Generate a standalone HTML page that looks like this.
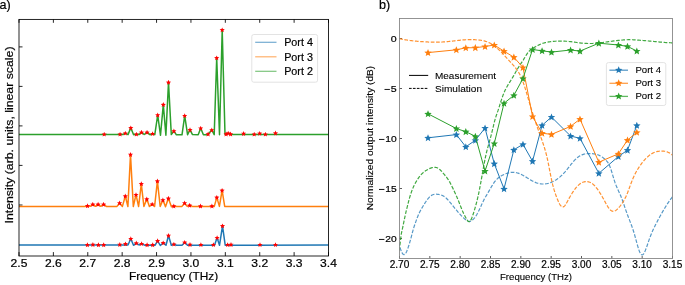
<!DOCTYPE html>
<html><head><meta charset="utf-8"><style>
html,body{margin:0;padding:0;background:#fff;width:685px;height:285px;overflow:hidden;font-family:"Liberation Sans", sans-serif;}
svg{display:block;will-change:transform}
</style></head><body>
<svg width="685" height="285" viewBox="0 0 685 285" font-family='"Liberation Sans", sans-serif'>
<defs>
<clipPath id="clipL"><rect x="19.0" y="19.4" width="309.5" height="236.6"/></clipPath>
<clipPath id="clipR"><rect x="399.5" y="14.5" width="273.0" height="244.0"/></clipPath>
</defs>
<rect width="685" height="285" fill="#fff"/>
<text x="-0.6" y="9.1" font-size="12.6" text-anchor="start" fill="#000" stroke="#000" stroke-width="0.2" >a)</text>
<line x1="19.00" y1="256.0" x2="19.00" y2="252.1" stroke="#000" stroke-width="0.85"/>
<line x1="19.00" y1="19.4" x2="19.00" y2="22.799999999999997" stroke="#000" stroke-width="0.85"/>
<text x="19.00" y="266.6" font-size="10.3" text-anchor="middle" fill="#000" stroke="#000" stroke-width="0.2" textLength="16.8" lengthAdjust="spacingAndGlyphs" >2.5</text>
<line x1="53.39" y1="256.0" x2="53.39" y2="252.1" stroke="#000" stroke-width="0.85"/>
<line x1="53.39" y1="19.4" x2="53.39" y2="22.799999999999997" stroke="#000" stroke-width="0.85"/>
<text x="53.39" y="266.6" font-size="10.3" text-anchor="middle" fill="#000" stroke="#000" stroke-width="0.2" textLength="16.8" lengthAdjust="spacingAndGlyphs" >2.6</text>
<line x1="87.78" y1="256.0" x2="87.78" y2="252.1" stroke="#000" stroke-width="0.85"/>
<line x1="87.78" y1="19.4" x2="87.78" y2="22.799999999999997" stroke="#000" stroke-width="0.85"/>
<text x="87.78" y="266.6" font-size="10.3" text-anchor="middle" fill="#000" stroke="#000" stroke-width="0.2" textLength="16.8" lengthAdjust="spacingAndGlyphs" >2.7</text>
<line x1="122.17" y1="256.0" x2="122.17" y2="252.1" stroke="#000" stroke-width="0.85"/>
<line x1="122.17" y1="19.4" x2="122.17" y2="22.799999999999997" stroke="#000" stroke-width="0.85"/>
<text x="122.17" y="266.6" font-size="10.3" text-anchor="middle" fill="#000" stroke="#000" stroke-width="0.2" textLength="16.8" lengthAdjust="spacingAndGlyphs" >2.8</text>
<line x1="156.56" y1="256.0" x2="156.56" y2="252.1" stroke="#000" stroke-width="0.85"/>
<line x1="156.56" y1="19.4" x2="156.56" y2="22.799999999999997" stroke="#000" stroke-width="0.85"/>
<text x="156.56" y="266.6" font-size="10.3" text-anchor="middle" fill="#000" stroke="#000" stroke-width="0.2" textLength="16.8" lengthAdjust="spacingAndGlyphs" >2.9</text>
<line x1="190.94" y1="256.0" x2="190.94" y2="252.1" stroke="#000" stroke-width="0.85"/>
<line x1="190.94" y1="19.4" x2="190.94" y2="22.799999999999997" stroke="#000" stroke-width="0.85"/>
<text x="190.94" y="266.6" font-size="10.3" text-anchor="middle" fill="#000" stroke="#000" stroke-width="0.2" textLength="16.8" lengthAdjust="spacingAndGlyphs" >3.0</text>
<line x1="225.33" y1="256.0" x2="225.33" y2="252.1" stroke="#000" stroke-width="0.85"/>
<line x1="225.33" y1="19.4" x2="225.33" y2="22.799999999999997" stroke="#000" stroke-width="0.85"/>
<text x="225.33" y="266.6" font-size="10.3" text-anchor="middle" fill="#000" stroke="#000" stroke-width="0.2" textLength="16.8" lengthAdjust="spacingAndGlyphs" >3.1</text>
<line x1="259.72" y1="256.0" x2="259.72" y2="252.1" stroke="#000" stroke-width="0.85"/>
<line x1="259.72" y1="19.4" x2="259.72" y2="22.799999999999997" stroke="#000" stroke-width="0.85"/>
<text x="259.72" y="266.6" font-size="10.3" text-anchor="middle" fill="#000" stroke="#000" stroke-width="0.2" textLength="16.8" lengthAdjust="spacingAndGlyphs" >3.2</text>
<line x1="294.11" y1="256.0" x2="294.11" y2="252.1" stroke="#000" stroke-width="0.85"/>
<line x1="294.11" y1="19.4" x2="294.11" y2="22.799999999999997" stroke="#000" stroke-width="0.85"/>
<text x="294.11" y="266.6" font-size="10.3" text-anchor="middle" fill="#000" stroke="#000" stroke-width="0.2" textLength="16.8" lengthAdjust="spacingAndGlyphs" >3.3</text>
<line x1="328.50" y1="256.0" x2="328.50" y2="252.1" stroke="#000" stroke-width="0.85"/>
<line x1="328.50" y1="19.4" x2="328.50" y2="22.799999999999997" stroke="#000" stroke-width="0.85"/>
<text x="328.50" y="266.6" font-size="10.3" text-anchor="middle" fill="#000" stroke="#000" stroke-width="0.2" textLength="16.8" lengthAdjust="spacingAndGlyphs" >3.4</text>
<line x1="19.0" y1="46.9" x2="22.5" y2="46.9" stroke="#000" stroke-width="0.85"/>
<line x1="19.0" y1="86.4" x2="22.5" y2="86.4" stroke="#000" stroke-width="0.85"/>
<line x1="19.0" y1="125.9" x2="22.5" y2="125.9" stroke="#000" stroke-width="0.85"/>
<line x1="19.0" y1="165.4" x2="22.5" y2="165.4" stroke="#000" stroke-width="0.85"/>
<line x1="19.0" y1="205.0" x2="22.5" y2="205.0" stroke="#000" stroke-width="0.85"/>
<g clip-path="url(#clipL)">
<polyline points="19.00,245.00 128.00,245.00 130.80,238.70 133.50,245.30 136.30,243.10 139.00,245.00 141.60,243.70 144.50,245.20 155.00,245.30 157.60,240.80 160.30,245.50 163.20,242.90 166.00,245.30 168.50,235.50 171.30,245.30 173.90,244.20 176.50,245.20 182.00,245.20 184.70,242.40 187.50,245.20 214.50,245.20 217.10,237.70 219.50,245.30 222.50,225.90 225.20,245.20 328.60,245.00" fill="none" stroke="#1f77b4" stroke-width="1.5" stroke-linejoin="round" stroke-linecap="butt" />
<polyline points="19.00,206.40 85.00,206.40 87.50,205.80 90.20,206.30 92.80,204.30 95.50,206.30 98.10,204.30 100.80,206.30 103.60,204.30 106.30,206.40 117.00,206.40 119.60,203.00 122.40,206.40 125.30,196.10 127.90,206.50 130.50,154.50 133.30,206.50 136.00,194.70 138.60,206.50 141.30,183.80 143.90,206.50 146.80,199.10 149.40,206.50 152.20,204.20 154.60,206.50 157.40,181.10 160.20,206.50 162.90,200.00 165.50,206.70 168.40,198.30 171.40,206.70 173.80,206.10 176.50,206.40 182.00,206.40 184.60,203.00 187.20,206.40 189.70,205.30 192.30,206.40 209.50,206.40 211.90,206.10 214.30,206.40 216.80,197.40 219.40,206.40 222.10,190.40 224.70,206.40 328.60,206.40" fill="none" stroke="#ff7f0e" stroke-width="1.5" stroke-linejoin="round" stroke-linecap="butt" />
<polyline points="19.00,134.60 117.40,134.60 120.05,134.30 122.70,134.60 125.30,133.20 128.00,134.60 130.80,127.90 133.60,134.80 136.40,134.20 139.00,134.60 141.50,132.30 144.20,134.50 147.05,132.30 150.00,134.70 152.60,133.70 154.80,134.60 157.70,115.00 160.50,135.30 163.30,104.60 165.90,135.30 168.50,82.30 171.30,134.60 173.90,131.00 176.40,134.80 182.00,134.80 184.70,115.70 187.60,134.80 190.00,129.80 192.50,134.60 198.20,134.80 200.70,128.20 203.40,134.80 206.60,134.70 208.10,134.20 211.80,130.00 214.20,134.70 216.70,57.90 219.50,134.70 222.20,29.90 225.00,134.50 226.10,134.20 228.20,133.20 230.60,134.20 233.00,134.50 328.60,134.50" fill="none" stroke="#2ca02c" stroke-width="1.5" stroke-linejoin="round" stroke-linecap="butt" />
<polygon points="87.40,242.30 88.11,244.02 89.97,244.17 88.56,245.38 88.99,247.18 87.40,246.22 85.81,247.18 86.24,245.38 84.83,244.17 86.69,244.02" fill="#ff0000"/>
<polygon points="92.90,242.00 93.61,243.72 95.47,243.87 94.06,245.08 94.49,246.88 92.90,245.91 91.31,246.88 91.74,245.08 90.33,243.87 92.19,243.72" fill="#ff0000"/>
<polygon points="98.40,242.30 99.11,244.02 100.97,244.17 99.56,245.38 99.99,247.18 98.40,246.22 96.81,247.18 97.24,245.38 95.83,244.17 97.69,244.02" fill="#ff0000"/>
<polygon points="103.70,242.30 104.41,244.02 106.27,244.17 104.86,245.38 105.29,247.18 103.70,246.22 102.11,247.18 102.54,245.38 101.13,244.17 102.99,244.02" fill="#ff0000"/>
<polygon points="119.80,242.00 120.51,243.72 122.37,243.87 120.96,245.08 121.39,246.88 119.80,245.91 118.21,246.88 118.64,245.08 117.23,243.87 119.09,243.72" fill="#ff0000"/>
<polygon points="125.50,241.40 126.21,243.12 128.07,243.27 126.66,244.48 127.09,246.28 125.50,245.31 123.91,246.28 124.34,244.48 122.93,243.27 124.79,243.12" fill="#ff0000"/>
<polygon points="130.80,236.20 131.51,237.92 133.37,238.07 131.96,239.28 132.39,241.08 130.80,240.11 129.21,241.08 129.64,239.28 128.23,238.07 130.09,237.92" fill="#ff0000"/>
<polygon points="136.30,240.60 137.01,242.32 138.87,242.47 137.46,243.68 137.89,245.48 136.30,244.51 134.71,245.48 135.14,243.68 133.73,242.47 135.59,242.32" fill="#ff0000"/>
<polygon points="141.60,241.20 142.31,242.92 144.17,243.07 142.76,244.28 143.19,246.08 141.60,245.11 140.01,246.08 140.44,244.28 139.03,243.07 140.89,242.92" fill="#ff0000"/>
<polygon points="147.10,242.30 147.81,244.02 149.67,244.17 148.26,245.38 148.69,247.18 147.10,246.22 145.51,247.18 145.94,245.38 144.53,244.17 146.39,244.02" fill="#ff0000"/>
<polygon points="152.70,242.30 153.41,244.02 155.27,244.17 153.86,245.38 154.29,247.18 152.70,246.22 151.11,247.18 151.54,245.38 150.13,244.17 151.99,244.02" fill="#ff0000"/>
<polygon points="157.60,238.30 158.31,240.02 160.17,240.17 158.76,241.38 159.19,243.18 157.60,242.22 156.01,243.18 156.44,241.38 155.03,240.17 156.89,240.02" fill="#ff0000"/>
<polygon points="163.20,240.40 163.91,242.12 165.77,242.27 164.36,243.48 164.79,245.28 163.20,244.31 161.61,245.28 162.04,243.48 160.63,242.27 162.49,242.12" fill="#ff0000"/>
<polygon points="168.50,233.00 169.21,234.72 171.07,234.87 169.66,236.08 170.09,237.88 168.50,236.91 166.91,237.88 167.34,236.08 165.93,234.87 167.79,234.72" fill="#ff0000"/>
<polygon points="173.90,241.70 174.61,243.42 176.47,243.57 175.06,244.78 175.49,246.58 173.90,245.61 172.31,246.58 172.74,244.78 171.33,243.57 173.19,243.42" fill="#ff0000"/>
<polygon points="184.70,239.90 185.41,241.62 187.27,241.77 185.86,242.98 186.29,244.78 184.70,243.81 183.11,244.78 183.54,242.98 182.13,241.77 183.99,241.62" fill="#ff0000"/>
<polygon points="190.00,242.00 190.71,243.72 192.57,243.87 191.16,245.08 191.59,246.88 190.00,245.91 188.41,246.88 188.84,245.08 187.43,243.87 189.29,243.72" fill="#ff0000"/>
<polygon points="200.90,242.20 201.61,243.92 203.47,244.07 202.06,245.28 202.49,247.08 200.90,246.11 199.31,247.08 199.74,245.28 198.33,244.07 200.19,243.92" fill="#ff0000"/>
<polygon points="213.40,242.20 214.11,243.92 215.97,244.07 214.56,245.28 214.99,247.08 213.40,246.11 211.81,247.08 212.24,245.28 210.83,244.07 212.69,243.92" fill="#ff0000"/>
<polygon points="217.10,235.20 217.81,236.92 219.67,237.07 218.26,238.28 218.69,240.08 217.10,239.11 215.51,240.08 215.94,238.28 214.53,237.07 216.39,236.92" fill="#ff0000"/>
<polygon points="222.50,223.40 223.21,225.12 225.07,225.27 223.66,226.48 224.09,228.28 222.50,227.31 220.91,228.28 221.34,226.48 219.93,225.27 221.79,225.12" fill="#ff0000"/>
<polygon points="227.60,242.20 228.31,243.92 230.17,244.07 228.76,245.28 229.19,247.08 227.60,246.11 226.01,247.08 226.44,245.28 225.03,244.07 226.89,243.92" fill="#ff0000"/>
<polygon points="231.00,242.00 231.71,243.72 233.57,243.87 232.16,245.08 232.59,246.88 231.00,245.91 229.41,246.88 229.84,245.08 228.43,243.87 230.29,243.72" fill="#ff0000"/>
<polygon points="260.00,242.20 260.71,243.92 262.57,244.07 261.16,245.28 261.59,247.08 260.00,246.11 258.41,247.08 258.84,245.28 257.43,244.07 259.29,243.92" fill="#ff0000"/>
<polygon points="275.50,242.20 276.21,243.92 278.07,244.07 276.66,245.28 277.09,247.08 275.50,246.11 273.91,247.08 274.34,245.28 272.93,244.07 274.79,243.92" fill="#ff0000"/>
<polygon points="87.50,203.30 88.21,205.02 90.07,205.17 88.66,206.38 89.09,208.18 87.50,207.22 85.91,208.18 86.34,206.38 84.93,205.17 86.79,205.02" fill="#ff0000"/>
<polygon points="92.80,201.80 93.51,203.52 95.37,203.67 93.96,204.88 94.39,206.68 92.80,205.72 91.21,206.68 91.64,204.88 90.23,203.67 92.09,203.52" fill="#ff0000"/>
<polygon points="98.10,201.80 98.81,203.52 100.67,203.67 99.26,204.88 99.69,206.68 98.10,205.72 96.51,206.68 96.94,204.88 95.53,203.67 97.39,203.52" fill="#ff0000"/>
<polygon points="103.60,201.80 104.31,203.52 106.17,203.67 104.76,204.88 105.19,206.68 103.60,205.72 102.01,206.68 102.44,204.88 101.03,203.67 102.89,203.52" fill="#ff0000"/>
<polygon points="119.60,200.50 120.31,202.22 122.17,202.37 120.76,203.58 121.19,205.38 119.60,204.41 118.01,205.38 118.44,203.58 117.03,202.37 118.89,202.22" fill="#ff0000"/>
<polygon points="125.30,193.60 126.01,195.32 127.87,195.47 126.46,196.68 126.89,198.48 125.30,197.51 123.71,198.48 124.14,196.68 122.73,195.47 124.59,195.32" fill="#ff0000"/>
<polygon points="130.50,152.00 131.21,153.72 133.07,153.87 131.66,155.08 132.09,156.88 130.50,155.91 128.91,156.88 129.34,155.08 127.93,153.87 129.79,153.72" fill="#ff0000"/>
<polygon points="136.00,192.20 136.71,193.92 138.57,194.07 137.16,195.28 137.59,197.08 136.00,196.11 134.41,197.08 134.84,195.28 133.43,194.07 135.29,193.92" fill="#ff0000"/>
<polygon points="141.30,181.30 142.01,183.02 143.87,183.17 142.46,184.38 142.89,186.18 141.30,185.22 139.71,186.18 140.14,184.38 138.73,183.17 140.59,183.02" fill="#ff0000"/>
<polygon points="146.80,196.60 147.51,198.32 149.37,198.47 147.96,199.68 148.39,201.48 146.80,200.51 145.21,201.48 145.64,199.68 144.23,198.47 146.09,198.32" fill="#ff0000"/>
<polygon points="152.20,201.70 152.91,203.42 154.77,203.57 153.36,204.78 153.79,206.58 152.20,205.61 150.61,206.58 151.04,204.78 149.63,203.57 151.49,203.42" fill="#ff0000"/>
<polygon points="157.40,178.60 158.11,180.32 159.97,180.47 158.56,181.68 158.99,183.48 157.40,182.51 155.81,183.48 156.24,181.68 154.83,180.47 156.69,180.32" fill="#ff0000"/>
<polygon points="162.90,197.50 163.61,199.22 165.47,199.37 164.06,200.58 164.49,202.38 162.90,201.41 161.31,202.38 161.74,200.58 160.33,199.37 162.19,199.22" fill="#ff0000"/>
<polygon points="168.40,195.80 169.11,197.52 170.97,197.67 169.56,198.88 169.99,200.68 168.40,199.72 166.81,200.68 167.24,198.88 165.83,197.67 167.69,197.52" fill="#ff0000"/>
<polygon points="173.80,203.60 174.51,205.32 176.37,205.47 174.96,206.68 175.39,208.48 173.80,207.51 172.21,208.48 172.64,206.68 171.23,205.47 173.09,205.32" fill="#ff0000"/>
<polygon points="184.60,200.50 185.31,202.22 187.17,202.37 185.76,203.58 186.19,205.38 184.60,204.41 183.01,205.38 183.44,203.58 182.03,202.37 183.89,202.22" fill="#ff0000"/>
<polygon points="189.70,202.80 190.41,204.52 192.27,204.67 190.86,205.88 191.29,207.68 189.70,206.72 188.11,207.68 188.54,205.88 187.13,204.67 188.99,204.52" fill="#ff0000"/>
<polygon points="200.50,203.60 201.21,205.32 203.07,205.47 201.66,206.68 202.09,208.48 200.50,207.51 198.91,208.48 199.34,206.68 197.93,205.47 199.79,205.32" fill="#ff0000"/>
<polygon points="211.90,203.60 212.61,205.32 214.47,205.47 213.06,206.68 213.49,208.48 211.90,207.51 210.31,208.48 210.74,206.68 209.33,205.47 211.19,205.32" fill="#ff0000"/>
<polygon points="216.80,194.90 217.51,196.62 219.37,196.77 217.96,197.98 218.39,199.78 216.80,198.81 215.21,199.78 215.64,197.98 214.23,196.77 216.09,196.62" fill="#ff0000"/>
<polygon points="222.10,187.90 222.81,189.62 224.67,189.77 223.26,190.98 223.69,192.78 222.10,191.81 220.51,192.78 220.94,190.98 219.53,189.77 221.39,189.62" fill="#ff0000"/>
<polygon points="104.20,131.70 104.91,133.42 106.77,133.57 105.36,134.78 105.79,136.58 104.20,135.61 102.61,136.58 103.04,134.78 101.63,133.57 103.49,133.42" fill="#ff0000"/>
<polygon points="120.05,131.70 120.76,133.42 122.62,133.57 121.21,134.78 121.64,136.58 120.05,135.61 118.46,136.58 118.89,134.78 117.48,133.57 119.34,133.42" fill="#ff0000"/>
<polygon points="125.30,130.70 126.01,132.42 127.87,132.57 126.46,133.78 126.89,135.58 125.30,134.61 123.71,135.58 124.14,133.78 122.73,132.57 124.59,132.42" fill="#ff0000"/>
<polygon points="130.80,125.40 131.51,127.12 133.37,127.27 131.96,128.48 132.39,130.28 130.80,129.31 129.21,130.28 129.64,128.48 128.23,127.27 130.09,127.12" fill="#ff0000"/>
<polygon points="136.40,131.70 137.11,133.42 138.97,133.57 137.56,134.78 137.99,136.58 136.40,135.61 134.81,136.58 135.24,134.78 133.83,133.57 135.69,133.42" fill="#ff0000"/>
<polygon points="141.50,129.80 142.21,131.52 144.07,131.67 142.66,132.88 143.09,134.68 141.50,133.72 139.91,134.68 140.34,132.88 138.93,131.67 140.79,131.52" fill="#ff0000"/>
<polygon points="147.05,129.80 147.76,131.52 149.62,131.67 148.21,132.88 148.64,134.68 147.05,133.72 145.46,134.68 145.89,132.88 144.48,131.67 146.34,131.52" fill="#ff0000"/>
<polygon points="152.60,131.20 153.31,132.92 155.17,133.07 153.76,134.28 154.19,136.08 152.60,135.11 151.01,136.08 151.44,134.28 150.03,133.07 151.89,132.92" fill="#ff0000"/>
<polygon points="157.70,112.50 158.41,114.22 160.27,114.37 158.86,115.58 159.29,117.38 157.70,116.42 156.11,117.38 156.54,115.58 155.13,114.37 156.99,114.22" fill="#ff0000"/>
<polygon points="163.30,102.10 164.01,103.82 165.87,103.97 164.46,105.18 164.89,106.98 163.30,106.02 161.71,106.98 162.14,105.18 160.73,103.97 162.59,103.82" fill="#ff0000"/>
<polygon points="168.50,79.80 169.21,81.52 171.07,81.67 169.66,82.88 170.09,84.68 168.50,83.72 166.91,84.68 167.34,82.88 165.93,81.67 167.79,81.52" fill="#ff0000"/>
<polygon points="173.90,128.50 174.61,130.22 176.47,130.37 175.06,131.58 175.49,133.38 173.90,132.41 172.31,133.38 172.74,131.58 171.33,130.37 173.19,130.22" fill="#ff0000"/>
<polygon points="184.70,113.20 185.41,114.92 187.27,115.07 185.86,116.28 186.29,118.08 184.70,117.12 183.11,118.08 183.54,116.28 182.13,115.07 183.99,114.92" fill="#ff0000"/>
<polygon points="190.00,127.30 190.71,129.02 192.57,129.17 191.16,130.38 191.59,132.18 190.00,131.22 188.41,132.18 188.84,130.38 187.43,129.17 189.29,129.02" fill="#ff0000"/>
<polygon points="200.70,125.70 201.41,127.42 203.27,127.57 201.86,128.78 202.29,130.58 200.70,129.61 199.11,130.58 199.54,128.78 198.13,127.57 199.99,127.42" fill="#ff0000"/>
<polygon points="208.10,131.50 208.81,133.22 210.67,133.37 209.26,134.58 209.69,136.38 208.10,135.41 206.51,136.38 206.94,134.58 205.53,133.37 207.39,133.22" fill="#ff0000"/>
<polygon points="211.80,127.50 212.51,129.22 214.37,129.37 212.96,130.58 213.39,132.38 211.80,131.41 210.21,132.38 210.64,130.58 209.23,129.37 211.09,129.22" fill="#ff0000"/>
<polygon points="216.70,55.40 217.41,57.12 219.27,57.27 217.86,58.48 218.29,60.28 216.70,59.32 215.11,60.28 215.54,58.48 214.13,57.27 215.99,57.12" fill="#ff0000"/>
<polygon points="222.20,27.40 222.91,29.12 224.77,29.27 223.36,30.48 223.79,32.28 222.20,31.31 220.61,32.28 221.04,30.48 219.63,29.27 221.49,29.12" fill="#ff0000"/>
<polygon points="226.10,131.50 226.81,133.22 228.67,133.37 227.26,134.58 227.69,136.38 226.10,135.41 224.51,136.38 224.94,134.58 223.53,133.37 225.39,133.22" fill="#ff0000"/>
<polygon points="228.20,130.70 228.91,132.42 230.77,132.57 229.36,133.78 229.79,135.58 228.20,134.61 226.61,135.58 227.04,133.78 225.63,132.57 227.49,132.42" fill="#ff0000"/>
<polygon points="230.60,131.50 231.31,133.22 233.17,133.37 231.76,134.58 232.19,136.38 230.60,135.41 229.01,136.38 229.44,134.58 228.03,133.37 229.89,133.22" fill="#ff0000"/>
<polygon points="243.60,131.00 244.31,132.72 246.17,132.87 244.76,134.08 245.19,135.88 243.60,134.91 242.01,135.88 242.44,134.08 241.03,132.87 242.89,132.72" fill="#ff0000"/>
<polygon points="254.20,131.70 254.91,133.42 256.77,133.57 255.36,134.78 255.79,136.58 254.20,135.61 252.61,136.58 253.04,134.78 251.63,133.57 253.49,133.42" fill="#ff0000"/>
<polygon points="259.70,130.90 260.41,132.62 262.27,132.77 260.86,133.98 261.29,135.78 259.70,134.81 258.11,135.78 258.54,133.98 257.13,132.77 258.99,132.62" fill="#ff0000"/>
<polygon points="265.40,131.70 266.11,133.42 267.97,133.57 266.56,134.78 266.99,136.58 265.40,135.61 263.81,136.58 264.24,134.78 262.83,133.57 264.69,133.42" fill="#ff0000"/>
<polygon points="275.50,130.60 276.21,132.32 278.07,132.47 276.66,133.68 277.09,135.48 275.50,134.51 273.91,135.48 274.34,133.68 272.93,132.47 274.79,132.32" fill="#ff0000"/>
</g>
<rect x="251.8" y="34.5" width="65.8" height="47.7" rx="2" ry="2" fill="#fff" fill-opacity="0.8" stroke="#e3e3e3" stroke-width="1"/>
<line x1="255.2" y1="42.3" x2="276.5" y2="42.3" stroke="#1f77b4" stroke-width="1.2" stroke-opacity="0.62"/>
<text x="284.2" y="46.1" font-size="11.2" text-anchor="start" fill="#000" stroke="#000" stroke-width="0.2" textLength="28.7" lengthAdjust="spacingAndGlyphs" >Port 4</text>
<line x1="255.2" y1="56.8" x2="276.5" y2="56.8" stroke="#ff7f0e" stroke-width="1.2" stroke-opacity="0.62"/>
<text x="284.2" y="60.6" font-size="11.2" text-anchor="start" fill="#000" stroke="#000" stroke-width="0.2" textLength="28.7" lengthAdjust="spacingAndGlyphs" >Port 3</text>
<line x1="255.2" y1="71.3" x2="276.5" y2="71.3" stroke="#2ca02c" stroke-width="1.2" stroke-opacity="0.62"/>
<text x="284.2" y="75.1" font-size="11.2" text-anchor="start" fill="#000" stroke="#000" stroke-width="0.2" textLength="28.7" lengthAdjust="spacingAndGlyphs" >Port 2</text>
<rect x="19.0" y="19.4" width="309.5" height="236.6" fill="none" stroke="#000" stroke-width="0.85"/>
<text x="173.6" y="280.4" font-size="11.2" text-anchor="middle" fill="#000" stroke="#000" stroke-width="0.2" textLength="89" lengthAdjust="spacingAndGlyphs" >Frequency (THz)</text>
<text x="0" y="0" font-size="11.2" text-anchor="middle" fill="#000" stroke="#000" stroke-width="0.2" textLength="177" lengthAdjust="spacingAndGlyphs" transform="translate(13.2,135) rotate(-90)">Intensity (arb. units, linear scale)</text>
<text x="379.0" y="9.1" font-size="12.6" text-anchor="start" fill="#000" stroke="#000" stroke-width="0.2" >b)</text>
<line x1="399.50" y1="258.5" x2="399.50" y2="256.0" stroke="#333" stroke-width="0.8"/>
<text x="399.50" y="268.4" font-size="10.2" text-anchor="middle" fill="#000" stroke="#000" stroke-width="0.2" textLength="19.6" lengthAdjust="spacingAndGlyphs" >2.70</text>
<line x1="429.83" y1="258.5" x2="429.83" y2="256.0" stroke="#333" stroke-width="0.8"/>
<text x="429.83" y="268.4" font-size="10.2" text-anchor="middle" fill="#000" stroke="#000" stroke-width="0.2" textLength="19.6" lengthAdjust="spacingAndGlyphs" >2.75</text>
<line x1="460.17" y1="258.5" x2="460.17" y2="256.0" stroke="#333" stroke-width="0.8"/>
<text x="460.17" y="268.4" font-size="10.2" text-anchor="middle" fill="#000" stroke="#000" stroke-width="0.2" textLength="19.6" lengthAdjust="spacingAndGlyphs" >2.80</text>
<line x1="490.50" y1="258.5" x2="490.50" y2="256.0" stroke="#333" stroke-width="0.8"/>
<text x="490.50" y="268.4" font-size="10.2" text-anchor="middle" fill="#000" stroke="#000" stroke-width="0.2" textLength="19.6" lengthAdjust="spacingAndGlyphs" >2.85</text>
<line x1="520.83" y1="258.5" x2="520.83" y2="256.0" stroke="#333" stroke-width="0.8"/>
<text x="520.83" y="268.4" font-size="10.2" text-anchor="middle" fill="#000" stroke="#000" stroke-width="0.2" textLength="19.6" lengthAdjust="spacingAndGlyphs" >2.90</text>
<line x1="551.17" y1="258.5" x2="551.17" y2="256.0" stroke="#333" stroke-width="0.8"/>
<text x="551.17" y="268.4" font-size="10.2" text-anchor="middle" fill="#000" stroke="#000" stroke-width="0.2" textLength="19.6" lengthAdjust="spacingAndGlyphs" >2.95</text>
<line x1="581.50" y1="258.5" x2="581.50" y2="256.0" stroke="#333" stroke-width="0.8"/>
<text x="581.50" y="268.4" font-size="10.2" text-anchor="middle" fill="#000" stroke="#000" stroke-width="0.2" textLength="19.6" lengthAdjust="spacingAndGlyphs" >3.00</text>
<line x1="611.83" y1="258.5" x2="611.83" y2="256.0" stroke="#333" stroke-width="0.8"/>
<text x="611.83" y="268.4" font-size="10.2" text-anchor="middle" fill="#000" stroke="#000" stroke-width="0.2" textLength="19.6" lengthAdjust="spacingAndGlyphs" >3.05</text>
<line x1="642.17" y1="258.5" x2="642.17" y2="256.0" stroke="#333" stroke-width="0.8"/>
<text x="642.17" y="268.4" font-size="10.2" text-anchor="middle" fill="#000" stroke="#000" stroke-width="0.2" textLength="19.6" lengthAdjust="spacingAndGlyphs" >3.10</text>
<line x1="672.50" y1="258.5" x2="672.50" y2="256.0" stroke="#333" stroke-width="0.8"/>
<text x="672.50" y="268.4" font-size="10.2" text-anchor="middle" fill="#000" stroke="#000" stroke-width="0.2" textLength="19.6" lengthAdjust="spacingAndGlyphs" >3.15</text>
<line x1="399.5" y1="38.50" x2="402.0" y2="38.50" stroke="#333" stroke-width="0.8"/>
<text x="396.7" y="42.00" font-size="9.9" text-anchor="end" fill="#000" stroke="#000" stroke-width="0.2" textLength="5.9" lengthAdjust="spacingAndGlyphs" >0</text>
<line x1="399.5" y1="88.50" x2="402.0" y2="88.50" stroke="#333" stroke-width="0.8"/>
<text x="396.7" y="92.00" font-size="9.9" text-anchor="end" fill="#000" stroke="#000" stroke-width="0.2" textLength="5.9" lengthAdjust="spacingAndGlyphs" >5</text>
<rect x="384.50" y="88.95" width="5.4" height="0.9" fill="#000"/>
<line x1="399.5" y1="138.50" x2="402.0" y2="138.50" stroke="#333" stroke-width="0.8"/>
<text x="396.7" y="142.00" font-size="9.9" text-anchor="end" fill="#000" stroke="#000" stroke-width="0.2" textLength="11.4" lengthAdjust="spacingAndGlyphs" >10</text>
<rect x="379.00" y="138.95" width="5.4" height="0.9" fill="#000"/>
<line x1="399.5" y1="188.50" x2="402.0" y2="188.50" stroke="#333" stroke-width="0.8"/>
<text x="396.7" y="192.00" font-size="9.9" text-anchor="end" fill="#000" stroke="#000" stroke-width="0.2" textLength="11.4" lengthAdjust="spacingAndGlyphs" >15</text>
<rect x="379.00" y="188.95" width="5.4" height="0.9" fill="#000"/>
<line x1="399.5" y1="238.50" x2="402.0" y2="238.50" stroke="#333" stroke-width="0.8"/>
<text x="396.7" y="242.00" font-size="9.9" text-anchor="end" fill="#000" stroke="#000" stroke-width="0.2" textLength="11.4" lengthAdjust="spacingAndGlyphs" >20</text>
<rect x="379.00" y="238.95" width="5.4" height="0.9" fill="#000"/>
<g clip-path="url(#clipR)">
<polyline points="398.50,242.50 399.19,244.26 399.87,246.64 400.56,249.12 401.25,251.18 401.94,252.68 402.62,253.69 403.31,254.31 404.00,254.58 404.68,254.44 405.37,253.82 406.06,252.73 406.75,251.28 407.43,249.55 408.12,247.61 408.81,245.52 409.50,243.29 410.18,240.95 410.87,238.48 411.56,235.87 412.24,233.18 412.93,230.57 413.62,228.16 414.31,226.02 414.99,224.03 415.68,222.09 416.37,220.15 417.05,218.25 417.74,216.43 418.43,214.76 419.12,213.25 419.80,211.86 420.49,210.56 421.18,209.32 421.87,208.12 422.55,206.95 423.24,205.80 423.93,204.69 424.61,203.60 425.30,202.53 425.99,201.49 426.68,200.49 427.36,199.53 428.05,198.63 428.74,197.80 429.42,197.05 430.11,196.40 430.80,195.85 431.49,195.39 432.17,195.02 432.86,194.73 433.55,194.51 434.24,194.35 434.92,194.26 435.61,194.21 436.30,194.20 436.98,194.23 437.67,194.30 438.36,194.39 439.05,194.51 439.73,194.65 440.42,194.82 441.11,195.03 441.79,195.27 442.48,195.56 443.17,195.91 443.86,196.31 444.54,196.77 445.23,197.30 445.92,197.89 446.61,198.54 447.29,199.22 447.98,199.95 448.67,200.72 449.35,201.51 450.04,202.32 450.73,203.16 451.42,204.00 452.10,204.85 452.79,205.71 453.48,206.56 454.16,207.42 454.85,208.26 455.54,209.10 456.23,209.92 456.91,210.73 457.60,211.53 458.29,212.31 458.98,213.09 459.66,213.85 460.35,214.59 461.04,215.33 461.72,216.05 462.41,216.75 463.10,217.43 463.79,218.08 464.47,218.70 465.16,219.27 465.85,219.81 466.53,220.29 467.22,220.71 467.91,221.05 468.60,221.29 469.28,221.40 469.97,221.36 470.66,221.17 471.35,220.83 472.03,220.37 472.72,219.80 473.41,219.13 474.09,218.36 474.78,217.52 475.47,216.59 476.16,215.57 476.84,214.47 477.53,213.27 478.22,211.98 478.90,210.60 479.59,209.15 480.28,207.66 480.97,206.14 481.65,204.61 482.34,203.10 483.03,201.63 483.72,200.21 484.40,198.88 485.09,197.64 485.78,196.48 486.46,195.35 487.15,194.21 487.84,193.05 488.53,191.86 489.21,190.65 489.90,189.44 490.59,188.23 491.27,187.04 491.96,185.88 492.65,184.75 493.34,183.68 494.02,182.66 494.71,181.72 495.40,180.85 496.08,180.05 496.77,179.32 497.46,178.65 498.15,178.04 498.83,177.49 499.52,176.98 500.21,176.51 500.90,176.08 501.58,175.69 502.27,175.33 502.96,174.99 503.64,174.67 504.33,174.37 505.02,174.08 505.71,173.81 506.39,173.55 507.08,173.32 507.77,173.10 508.45,172.91 509.14,172.74 509.83,172.60 510.52,172.48 511.20,172.39 511.89,172.33 512.58,172.30 513.27,172.30 513.95,172.33 514.64,172.40 515.33,172.49 516.01,172.62 516.70,172.78 517.39,172.96 518.08,173.17 518.76,173.40 519.45,173.66 520.14,173.95 520.82,174.25 521.51,174.58 522.20,174.92 522.89,175.28 523.57,175.66 524.26,176.06 524.95,176.47 525.64,176.88 526.32,177.31 527.01,177.74 527.70,178.17 528.38,178.60 529.07,179.03 529.76,179.45 530.45,179.87 531.13,180.27 531.82,180.66 532.51,181.04 533.19,181.40 533.88,181.74 534.57,182.05 535.26,182.34 535.94,182.61 536.63,182.86 537.32,183.08 538.01,183.28 538.69,183.46 539.38,183.61 540.07,183.74 540.75,183.85 541.44,183.93 542.13,183.98 542.82,184.01 543.50,184.02 544.19,184.00 544.88,183.95 545.56,183.88 546.25,183.78 546.94,183.66 547.63,183.51 548.31,183.34 549.00,183.15 549.69,182.93 550.38,182.69 551.06,182.42 551.75,182.13 552.44,181.82 553.12,181.49 553.81,181.13 554.50,180.76 555.19,180.35 555.87,179.93 556.56,179.48 557.25,179.01 557.93,178.51 558.62,177.99 559.31,177.44 560.00,176.87 560.68,176.27 561.37,175.65 562.06,175.00 562.75,174.32 563.43,173.61 564.12,172.88 564.81,172.12 565.49,171.33 566.18,170.51 566.87,169.68 567.56,168.83 568.24,167.96 568.93,167.09 569.62,166.22 570.30,165.35 570.99,164.49 571.68,163.63 572.37,162.80 573.05,161.98 573.74,161.19 574.43,160.43 575.12,159.70 575.80,159.01 576.49,158.36 577.18,157.77 577.86,157.22 578.55,156.72 579.24,156.26 579.93,155.85 580.61,155.48 581.30,155.15 581.99,154.86 582.67,154.61 583.36,154.38 584.05,154.19 584.74,154.03 585.42,153.90 586.11,153.80 586.80,153.71 587.48,153.65 588.17,153.61 588.86,153.59 589.55,153.59 590.23,153.59 590.92,153.61 591.61,153.65 592.30,153.69 592.98,153.76 593.67,153.84 594.36,153.94 595.04,154.06 595.73,154.21 596.42,154.38 597.11,154.57 597.79,154.80 598.48,155.06 599.17,155.35 599.85,155.68 600.54,156.04 601.23,156.44 601.92,156.88 602.60,157.36 603.29,157.87 603.98,158.43 604.67,159.03 605.35,159.67 606.04,160.34 606.73,161.06 607.41,161.88 608.10,162.85 608.79,164.02 609.48,165.44 610.16,167.16 610.85,169.12 611.54,171.26 612.22,173.52 612.91,175.82 613.60,178.12 614.29,180.33 614.97,182.41 615.66,184.30 616.35,186.05 617.04,187.68 617.72,189.23 618.41,190.74 619.10,192.23 619.78,193.75 620.47,195.33 621.16,197.00 621.85,198.77 622.53,200.64 623.22,202.58 623.91,204.57 624.59,206.59 625.28,208.60 625.97,210.60 626.66,212.57 627.34,214.47 628.03,216.30 628.72,218.09 629.41,219.85 630.09,221.62 630.78,223.41 631.47,225.25 632.15,227.15 632.84,229.15 633.53,231.26 634.22,233.51 634.90,235.91 635.59,238.42 636.28,240.96 636.96,243.48 637.65,245.91 638.34,248.18 639.03,250.23 639.71,251.99 640.40,253.39 641.09,254.38 641.78,254.88 642.46,254.87 643.15,254.40 643.84,253.53 644.52,252.32 645.21,250.82 645.90,249.09 646.59,247.20 647.27,245.21 647.96,243.16 648.65,241.12 649.33,239.15 650.02,237.28 650.71,235.49 651.40,233.78 652.08,232.14 652.77,230.57 653.46,229.07 654.15,227.61 654.83,226.20 655.52,224.82 656.21,223.48 656.89,222.16 657.58,220.86 658.27,219.57 658.96,218.29 659.64,217.02 660.33,215.77 661.02,214.54 661.70,213.32 662.39,212.11 663.08,210.92 663.77,209.75 664.45,208.60 665.14,207.47 665.83,206.36 666.52,205.26 667.20,204.19 667.89,203.15 668.58,202.12 669.26,201.12 669.95,200.14 670.64,199.19 671.33,198.27 672.01,197.37 672.70,196.50" fill="none" stroke="#1f77b4" stroke-width="1.2" stroke-linejoin="round" stroke-linecap="butt" stroke-dasharray="3.7 1.6" stroke-opacity="0.75"/>
<polyline points="399.20,38.60 399.89,38.75 400.57,38.90 401.26,39.04 401.94,39.18 402.63,39.32 403.31,39.45 404.00,39.57 404.68,39.69 405.37,39.81 406.05,39.92 406.74,40.03 407.43,40.14 408.11,40.24 408.80,40.34 409.48,40.43 410.17,40.52 410.85,40.61 411.54,40.69 412.22,40.77 412.91,40.85 413.59,40.93 414.28,41.00 414.97,41.07 415.65,41.14 416.34,41.20 417.02,41.26 417.71,41.32 418.39,41.38 419.08,41.43 419.76,41.49 420.45,41.54 421.13,41.59 421.82,41.64 422.51,41.68 423.19,41.73 423.88,41.77 424.56,41.82 425.25,41.86 425.93,41.90 426.62,41.94 427.30,41.97 427.99,42.01 428.67,42.04 429.36,42.07 430.05,42.10 430.73,42.12 431.42,42.14 432.10,42.16 432.79,42.18 433.47,42.19 434.16,42.20 434.84,42.21 435.53,42.21 436.22,42.21 436.90,42.20 437.59,42.19 438.27,42.17 438.96,42.16 439.64,42.13 440.33,42.11 441.01,42.07 441.70,42.04 442.38,42.00 443.07,41.96 443.76,41.92 444.44,41.87 445.13,41.82 445.81,41.76 446.50,41.71 447.18,41.65 447.87,41.58 448.55,41.52 449.24,41.45 449.92,41.38 450.61,41.31 451.30,41.23 451.98,41.16 452.67,41.08 453.35,41.00 454.04,40.92 454.72,40.84 455.41,40.76 456.09,40.67 456.78,40.59 457.46,40.51 458.15,40.43 458.84,40.35 459.52,40.28 460.21,40.20 460.89,40.13 461.58,40.07 462.26,40.00 462.95,39.94 463.63,39.88 464.32,39.83 465.00,39.78 465.69,39.74 466.38,39.70 467.06,39.67 467.75,39.64 468.43,39.62 469.12,39.61 469.80,39.60 470.49,39.60 471.17,39.60 471.86,39.61 472.54,39.63 473.23,39.65 473.92,39.68 474.60,39.71 475.29,39.75 475.97,39.79 476.66,39.84 477.34,39.90 478.03,39.96 478.71,40.02 479.40,40.10 480.08,40.18 480.77,40.28 481.46,40.39 482.14,40.50 482.83,40.64 483.51,40.78 484.20,40.95 484.88,41.13 485.57,41.33 486.25,41.55 486.94,41.79 487.62,42.05 488.31,42.33 489.00,42.64 489.68,42.97 490.37,43.33 491.05,43.71 491.74,44.11 492.42,44.54 493.11,44.99 493.79,45.47 494.48,45.97 495.16,46.49 495.85,47.04 496.54,47.62 497.22,48.21 497.91,48.84 498.59,49.48 499.28,50.14 499.96,50.82 500.65,51.51 501.33,52.21 502.02,52.93 502.71,53.65 503.39,54.38 504.08,55.12 504.76,55.86 505.45,56.60 506.13,57.34 506.82,58.08 507.50,58.83 508.19,59.57 508.87,60.32 509.56,61.07 510.25,61.81 510.93,62.57 511.62,63.32 512.30,64.07 512.99,64.84 513.67,65.62 514.36,66.42 515.04,67.26 515.73,68.13 516.41,69.05 517.10,70.02 517.79,71.05 518.47,72.14 519.16,73.31 519.84,74.57 520.53,75.93 521.21,77.41 521.90,79.00 522.58,80.73 523.27,82.60 523.95,84.59 524.64,86.68 525.33,88.86 526.01,91.10 526.70,93.41 527.38,95.74 528.07,98.10 528.75,100.47 529.44,102.82 530.12,105.14 530.81,107.42 531.49,109.66 532.18,111.85 532.87,114.01 533.55,116.13 534.24,118.21 534.92,120.27 535.61,122.29 536.29,124.29 536.98,126.27 537.66,128.23 538.35,130.17 539.03,132.10 539.72,134.02 540.41,135.94 541.09,137.86 541.78,139.80 542.46,141.75 543.15,143.74 543.83,145.80 544.52,147.96 545.20,150.27 545.89,152.74 546.57,155.43 547.26,158.37 547.95,161.57 548.63,164.99 549.32,168.53 550.00,172.09 550.69,175.59 551.37,178.94 552.06,182.05 552.74,184.89 553.43,187.50 554.11,189.89 554.80,192.11 555.49,194.16 556.17,196.08 556.86,197.89 557.54,199.61 558.23,201.22 558.91,202.69 559.60,204.00 560.28,205.11 560.97,205.99 561.65,206.61 562.34,206.95 563.03,206.97 563.71,206.67 564.40,206.10 565.08,205.30 565.77,204.31 566.45,203.18 567.14,201.95 567.82,200.68 568.51,199.40 569.19,198.14 569.88,196.93 570.57,195.74 571.25,194.60 571.94,193.49 572.62,192.42 573.31,191.39 573.99,190.41 574.68,189.47 575.36,188.58 576.05,187.73 576.74,186.93 577.42,186.19 578.11,185.49 578.79,184.86 579.48,184.28 580.16,183.75 580.85,183.29 581.53,182.89 582.22,182.54 582.90,182.25 583.59,182.01 584.28,181.83 584.96,181.70 585.65,181.62 586.33,181.59 587.02,181.62 587.70,181.69 588.39,181.82 589.07,182.00 589.76,182.24 590.44,182.54 591.13,182.90 591.82,183.31 592.50,183.80 593.19,184.35 593.87,184.96 594.56,185.64 595.24,186.39 595.93,187.20 596.61,188.06 597.30,188.97 597.98,189.93 598.67,190.94 599.36,191.99 600.04,193.07 600.73,194.18 601.41,195.33 602.10,196.50 602.78,197.70 603.47,198.92 604.15,200.15 604.84,201.40 605.52,202.67 606.21,203.92 606.90,205.15 607.58,206.31 608.27,207.40 608.95,208.38 609.64,209.22 610.32,209.93 611.01,210.49 611.69,210.91 612.38,211.18 613.06,211.31 613.75,211.28 614.44,211.11 615.12,210.81 615.81,210.40 616.49,209.89 617.18,209.30 617.86,208.64 618.55,207.93 619.23,207.17 619.92,206.37 620.60,205.50 621.29,204.58 621.98,203.60 622.66,202.56 623.35,201.45 624.03,200.27 624.72,199.00 625.40,197.64 626.09,196.19 626.77,194.64 627.46,192.97 628.14,191.21 628.83,189.38 629.52,187.52 630.20,185.64 630.89,183.77 631.57,181.95 632.26,180.21 632.94,178.55 633.63,176.99 634.31,175.52 635.00,174.13 635.68,172.80 636.37,171.55 637.06,170.35 637.74,169.20 638.43,168.10 639.11,167.04 639.80,166.02 640.48,165.04 641.17,164.10 641.85,163.19 642.54,162.32 643.23,161.48 643.91,160.68 644.60,159.90 645.28,159.16 645.97,158.44 646.65,157.76 647.34,157.10 648.02,156.48 648.71,155.89 649.39,155.34 650.08,154.82 650.77,154.34 651.45,153.89 652.14,153.49 652.82,153.12 653.51,152.78 654.19,152.49 654.88,152.22 655.56,151.99 656.25,151.78 656.93,151.61 657.62,151.46 658.31,151.33 658.99,151.24 659.68,151.16 660.36,151.10 661.05,151.07 661.73,151.05 662.42,151.06 663.10,151.09 663.79,151.15 664.47,151.24 665.16,151.37 665.85,151.52 666.53,151.71 667.22,151.93 667.90,152.20 668.59,152.50 669.27,152.85 669.96,153.24 670.64,153.68 671.33,154.17 672.01,154.71 672.70,155.30" fill="none" stroke="#ff7f0e" stroke-width="1.2" stroke-linejoin="round" stroke-linecap="butt" stroke-dasharray="3.7 1.6" stroke-opacity="0.85"/>
<polyline points="399.20,250.50 399.89,245.22 400.57,239.75 401.26,234.11 401.94,230.73 402.63,227.80 403.31,224.44 404.00,221.08 404.68,217.84 405.37,214.72 406.05,211.74 406.74,208.89 407.43,206.07 408.11,203.28 408.80,200.59 409.48,198.09 410.17,195.78 410.85,193.64 411.54,191.66 412.22,189.82 412.91,188.12 413.59,186.55 414.28,185.10 414.97,183.76 415.65,182.51 416.34,181.34 417.02,180.24 417.71,179.17 418.39,178.15 419.08,177.18 419.76,176.26 420.45,175.40 421.13,174.60 421.82,173.87 422.51,173.21 423.19,172.60 423.88,172.05 424.56,171.54 425.25,171.07 425.93,170.61 426.62,170.18 427.30,169.76 427.99,169.37 428.67,169.00 429.36,168.66 430.05,168.36 430.73,168.08 431.42,167.84 432.10,167.65 432.79,167.49 433.47,167.38 434.16,167.31 434.84,167.30 435.53,167.36 436.22,167.49 436.90,167.69 437.59,167.98 438.27,168.36 438.96,168.84 439.64,169.39 440.33,170.02 441.01,170.71 441.70,171.45 442.38,172.22 443.07,173.02 443.76,173.84 444.44,174.67 445.13,175.50 445.81,176.34 446.50,177.20 447.18,178.11 447.87,179.06 448.55,180.08 449.24,181.18 449.92,182.38 450.61,183.66 451.30,185.01 451.98,186.42 452.67,187.87 453.35,189.34 454.04,190.81 454.72,192.28 455.41,193.76 456.09,195.27 456.78,196.81 457.46,198.41 458.15,200.07 458.84,201.79 459.52,203.56 460.21,205.33 460.89,207.09 461.58,208.81 462.26,210.45 462.95,211.99 463.63,213.45 464.32,214.84 465.00,216.16 465.69,217.43 466.38,218.66 467.06,219.83 467.75,220.85 468.43,221.55 469.12,221.81 469.80,221.50 470.49,220.66 471.17,219.39 471.86,217.79 472.54,215.94 473.23,213.94 473.92,211.81 474.60,209.57 475.29,207.20 475.97,204.74 476.66,202.15 477.34,199.41 478.03,196.47 478.71,193.30 479.40,189.93 480.08,186.38 480.77,182.69 481.46,178.89 482.14,175.03 482.83,171.14 483.51,167.28 484.20,163.52 484.88,159.91 485.57,156.53 486.25,153.44 486.94,150.63 487.62,148.03 488.31,145.56 489.00,143.15 489.68,140.71 490.37,138.19 491.05,135.58 491.74,132.89 492.42,130.12 493.11,127.27 493.79,124.42 494.48,121.67 495.16,119.12 495.85,116.83 496.54,114.79 497.22,112.84 497.91,110.88 498.59,108.80 499.28,106.62 499.96,104.40 500.65,102.20 501.33,100.08 502.02,98.05 502.71,96.14 503.39,94.33 504.08,92.64 504.76,91.06 505.45,89.60 506.13,88.24 506.82,86.96 507.50,85.75 508.19,84.60 508.87,83.49 509.56,82.40 510.25,81.32 510.93,80.24 511.62,79.14 512.30,78.00 512.99,76.83 513.67,75.65 514.36,74.44 515.04,73.23 515.73,72.02 516.41,70.82 517.10,69.63 517.79,68.47 518.47,67.34 519.16,66.26 519.84,65.21 520.53,64.19 521.21,63.18 521.90,62.16 522.58,61.12 523.27,60.05 523.95,58.93 524.64,57.78 525.33,56.62 526.01,55.48 526.70,54.38 527.38,53.35 528.07,52.41 528.75,51.58 529.44,50.86 530.12,50.21 530.81,49.65 531.49,49.14 532.18,48.68 532.87,48.26 533.55,47.87 534.24,47.48 534.92,47.09 535.61,46.71 536.29,46.32 536.98,45.95 537.66,45.58 538.35,45.22 539.03,44.88 539.72,44.55 540.41,44.24 541.09,43.95 541.78,43.68 542.46,43.44 543.15,43.21 543.83,43.00 544.52,42.80 545.20,42.62 545.89,42.46 546.57,42.31 547.26,42.17 547.95,42.05 548.63,41.93 549.32,41.83 550.00,41.73 550.69,41.65 551.37,41.57 552.06,41.50 552.74,41.43 553.43,41.37 554.11,41.32 554.80,41.27 555.49,41.23 556.17,41.19 556.86,41.16 557.54,41.14 558.23,41.12 558.91,41.11 559.60,41.10 560.28,41.09 560.97,41.10 561.65,41.10 562.34,41.11 563.03,41.13 563.71,41.14 564.40,41.17 565.08,41.20 565.77,41.23 566.45,41.27 567.14,41.31 567.82,41.36 568.51,41.42 569.19,41.48 569.88,41.55 570.57,41.62 571.25,41.70 571.94,41.78 572.62,41.87 573.31,41.96 573.99,42.06 574.68,42.17 575.36,42.27 576.05,42.37 576.74,42.48 577.42,42.58 578.11,42.68 578.79,42.78 579.48,42.87 580.16,42.96 580.85,43.04 581.53,43.11 582.22,43.18 582.90,43.24 583.59,43.29 584.28,43.33 584.96,43.37 585.65,43.41 586.33,43.44 587.02,43.46 587.70,43.48 588.39,43.49 589.07,43.50 589.76,43.51 590.44,43.51 591.13,43.50 591.82,43.49 592.50,43.48 593.19,43.46 593.87,43.43 594.56,43.40 595.24,43.36 595.93,43.32 596.61,43.27 597.30,43.21 597.98,43.15 598.67,43.07 599.36,43.00 600.04,42.92 600.73,42.83 601.41,42.74 602.10,42.64 602.78,42.55 603.47,42.45 604.15,42.34 604.84,42.24 605.52,42.13 606.21,42.03 606.90,41.92 607.58,41.81 608.27,41.71 608.95,41.61 609.64,41.51 610.32,41.41 611.01,41.31 611.69,41.22 612.38,41.13 613.06,41.04 613.75,40.95 614.44,40.86 615.12,40.78 615.81,40.70 616.49,40.62 617.18,40.54 617.86,40.47 618.55,40.40 619.23,40.33 619.92,40.26 620.60,40.19 621.29,40.13 621.98,40.07 622.66,40.01 623.35,39.96 624.03,39.91 624.72,39.87 625.40,39.83 626.09,39.79 626.77,39.76 627.46,39.74 628.14,39.72 628.83,39.71 629.52,39.70 630.20,39.70 630.89,39.71 631.57,39.72 632.26,39.74 632.94,39.77 633.63,39.80 634.31,39.84 635.00,39.88 635.68,39.92 636.37,39.97 637.06,40.02 637.74,40.07 638.43,40.12 639.11,40.18 639.80,40.23 640.48,40.29 641.17,40.35 641.85,40.40 642.54,40.46 643.23,40.52 643.91,40.57 644.60,40.63 645.28,40.69 645.97,40.75 646.65,40.80 647.34,40.86 648.02,40.92 648.71,40.98 649.39,41.04 650.08,41.11 650.77,41.17 651.45,41.23 652.14,41.30 652.82,41.36 653.51,41.43 654.19,41.50 654.88,41.56 655.56,41.63 656.25,41.70 656.93,41.77 657.62,41.83 658.31,41.90 658.99,41.96 659.68,42.03 660.36,42.09 661.05,42.15 661.73,42.21 662.42,42.27 663.10,42.33 663.79,42.38 664.47,42.43 665.16,42.48 665.85,42.53 666.53,42.57 667.22,42.61 667.90,42.65 668.59,42.68 669.27,42.71 669.96,42.74 670.64,42.76 671.33,42.78 672.01,42.79 672.70,42.80" fill="none" stroke="#2ca02c" stroke-width="1.2" stroke-linejoin="round" stroke-linecap="butt" stroke-dasharray="3.7 1.6" stroke-opacity="0.9"/>
<polyline points="428.01,137.80 456.34,134.60 465.81,146.80 475.33,140.30 485.04,128.00 494.26,163.70 504.03,188.80 513.86,149.80 522.96,144.30 532.54,161.20 542.07,125.40 551.47,117.00 570.58,136.00 579.98,138.30 598.85,173.30 618.39,156.50 627.49,150.20 636.83,125.40" fill="none" stroke="#1f77b4" stroke-width="1.0" stroke-linejoin="round" stroke-linecap="butt" />
<polygon points="428.01,134.20 429.04,136.68 431.72,136.89 429.68,138.64 430.31,141.26 428.01,139.86 425.72,141.26 426.34,138.64 424.30,136.89 426.98,136.68" fill="#1f77b4"/>
<polygon points="456.34,131.00 457.38,133.48 460.05,133.69 458.01,135.44 458.64,138.06 456.34,136.66 454.05,138.06 454.68,135.44 452.64,133.69 455.31,133.48" fill="#1f77b4"/>
<polygon points="465.81,143.20 466.84,145.68 469.52,145.89 467.48,147.64 468.10,150.26 465.81,148.86 463.52,150.26 464.14,147.64 462.10,145.89 464.78,145.68" fill="#1f77b4"/>
<polygon points="475.33,136.70 476.36,139.18 479.04,139.39 477.00,141.14 477.63,143.76 475.33,142.36 473.04,143.76 473.66,141.14 471.62,139.39 474.30,139.18" fill="#1f77b4"/>
<polygon points="485.04,124.40 486.07,126.88 488.75,127.09 486.71,128.84 487.33,131.46 485.04,130.06 482.75,131.46 483.37,128.84 481.33,127.09 484.01,126.88" fill="#1f77b4"/>
<polygon points="494.26,160.10 495.29,162.58 497.97,162.79 495.93,164.54 496.55,167.16 494.26,165.75 491.97,167.16 492.59,164.54 490.55,162.79 493.23,162.58" fill="#1f77b4"/>
<polygon points="504.03,185.20 505.06,187.68 507.74,187.89 505.70,189.64 506.32,192.26 504.03,190.86 501.74,192.26 502.36,189.64 500.32,187.89 503.00,187.68" fill="#1f77b4"/>
<polygon points="513.86,146.20 514.89,148.68 517.57,148.89 515.53,150.64 516.15,153.26 513.86,151.86 511.56,153.26 512.19,150.64 510.15,148.89 512.83,148.68" fill="#1f77b4"/>
<polygon points="522.96,140.70 523.99,143.18 526.67,143.39 524.63,145.14 525.25,147.76 522.96,146.36 520.66,147.76 521.29,145.14 519.25,143.39 521.93,143.18" fill="#1f77b4"/>
<polygon points="532.54,157.60 533.57,160.08 536.25,160.29 534.21,162.04 534.83,164.66 532.54,163.25 530.25,164.66 530.87,162.04 528.83,160.29 531.51,160.08" fill="#1f77b4"/>
<polygon points="542.07,121.80 543.10,124.28 545.78,124.49 543.74,126.24 544.36,128.86 542.07,127.45 539.77,128.86 540.40,126.24 538.36,124.49 541.04,124.28" fill="#1f77b4"/>
<polygon points="551.47,113.40 552.50,115.88 555.18,116.09 553.14,117.84 553.76,120.46 551.47,119.05 549.18,120.46 549.80,117.84 547.76,116.09 550.44,115.88" fill="#1f77b4"/>
<polygon points="570.58,132.40 571.61,134.88 574.29,135.09 572.25,136.84 572.87,139.46 570.58,138.06 568.29,139.46 568.91,136.84 566.87,135.09 569.55,134.88" fill="#1f77b4"/>
<polygon points="579.98,134.70 581.01,137.18 583.69,137.39 581.65,139.14 582.28,141.76 579.98,140.36 577.69,141.76 578.31,139.14 576.27,137.39 578.95,137.18" fill="#1f77b4"/>
<polygon points="598.85,169.70 599.88,172.18 602.56,172.39 600.52,174.14 601.14,176.76 598.85,175.36 596.56,176.76 597.18,174.14 595.14,172.39 597.82,172.18" fill="#1f77b4"/>
<polygon points="618.39,152.90 619.42,155.38 622.09,155.59 620.05,157.34 620.68,159.96 618.39,158.56 616.09,159.96 616.72,157.34 614.68,155.59 617.35,155.38" fill="#1f77b4"/>
<polygon points="627.49,146.60 628.52,149.08 631.19,149.29 629.15,151.04 629.78,153.66 627.49,152.25 625.19,153.66 625.82,151.04 623.78,149.29 626.45,149.08" fill="#1f77b4"/>
<polygon points="636.83,121.80 637.86,124.28 640.54,124.49 638.50,126.24 639.12,128.86 636.83,127.45 634.54,128.86 635.16,126.24 633.12,124.49 635.80,124.28" fill="#1f77b4"/>
<polyline points="428.01,52.60 456.34,49.80 465.81,47.80 475.33,47.70 485.04,46.50 494.26,45.00 504.03,51.20 513.86,57.20 522.96,67.50 532.54,116.50 542.07,133.20 551.47,134.40 570.58,126.40 579.98,119.10 598.85,162.20 618.39,153.80 627.49,140.10 636.83,132.30" fill="none" stroke="#ff7f0e" stroke-width="1.0" stroke-linejoin="round" stroke-linecap="butt" />
<polygon points="428.01,49.00 429.04,51.48 431.72,51.69 429.68,53.44 430.31,56.06 428.01,54.66 425.72,56.06 426.34,53.44 424.30,51.69 426.98,51.48" fill="#ff7f0e"/>
<polygon points="456.34,46.20 457.38,48.68 460.05,48.89 458.01,50.64 458.64,53.26 456.34,51.85 454.05,53.26 454.68,50.64 452.64,48.89 455.31,48.68" fill="#ff7f0e"/>
<polygon points="465.81,44.20 466.84,46.68 469.52,46.89 467.48,48.64 468.10,51.26 465.81,49.85 463.52,51.26 464.14,48.64 462.10,46.89 464.78,46.68" fill="#ff7f0e"/>
<polygon points="475.33,44.10 476.36,46.58 479.04,46.79 477.00,48.54 477.63,51.16 475.33,49.76 473.04,51.16 473.66,48.54 471.62,46.79 474.30,46.58" fill="#ff7f0e"/>
<polygon points="485.04,42.90 486.07,45.38 488.75,45.59 486.71,47.34 487.33,49.96 485.04,48.55 482.75,49.96 483.37,47.34 481.33,45.59 484.01,45.38" fill="#ff7f0e"/>
<polygon points="494.26,41.40 495.29,43.88 497.97,44.09 495.93,45.84 496.55,48.46 494.26,47.05 491.97,48.46 492.59,45.84 490.55,44.09 493.23,43.88" fill="#ff7f0e"/>
<polygon points="504.03,47.60 505.06,50.08 507.74,50.29 505.70,52.04 506.32,54.66 504.03,53.26 501.74,54.66 502.36,52.04 500.32,50.29 503.00,50.08" fill="#ff7f0e"/>
<polygon points="513.86,53.60 514.89,56.08 517.57,56.29 515.53,58.04 516.15,60.66 513.86,59.26 511.56,60.66 512.19,58.04 510.15,56.29 512.83,56.08" fill="#ff7f0e"/>
<polygon points="522.96,63.90 523.99,66.38 526.67,66.59 524.63,68.34 525.25,70.96 522.96,69.55 520.66,70.96 521.29,68.34 519.25,66.59 521.93,66.38" fill="#ff7f0e"/>
<polygon points="532.54,112.90 533.57,115.38 536.25,115.59 534.21,117.34 534.83,119.96 532.54,118.55 530.25,119.96 530.87,117.34 528.83,115.59 531.51,115.38" fill="#ff7f0e"/>
<polygon points="542.07,129.60 543.10,132.08 545.78,132.29 543.74,134.04 544.36,136.66 542.07,135.25 539.77,136.66 540.40,134.04 538.36,132.29 541.04,132.08" fill="#ff7f0e"/>
<polygon points="551.47,130.80 552.50,133.28 555.18,133.49 553.14,135.24 553.76,137.86 551.47,136.46 549.18,137.86 549.80,135.24 547.76,133.49 550.44,133.28" fill="#ff7f0e"/>
<polygon points="570.58,122.80 571.61,125.28 574.29,125.49 572.25,127.24 572.87,129.86 570.58,128.46 568.29,129.86 568.91,127.24 566.87,125.49 569.55,125.28" fill="#ff7f0e"/>
<polygon points="579.98,115.50 581.01,117.98 583.69,118.19 581.65,119.94 582.28,122.56 579.98,121.15 577.69,122.56 578.31,119.94 576.27,118.19 578.95,117.98" fill="#ff7f0e"/>
<polygon points="598.85,158.60 599.88,161.08 602.56,161.29 600.52,163.04 601.14,165.66 598.85,164.25 596.56,165.66 597.18,163.04 595.14,161.29 597.82,161.08" fill="#ff7f0e"/>
<polygon points="618.39,150.20 619.42,152.68 622.09,152.89 620.05,154.64 620.68,157.26 618.39,155.86 616.09,157.26 616.72,154.64 614.68,152.89 617.35,152.68" fill="#ff7f0e"/>
<polygon points="627.49,136.50 628.52,138.98 631.19,139.19 629.15,140.94 629.78,143.56 627.49,142.16 625.19,143.56 625.82,140.94 623.78,139.19 626.45,138.98" fill="#ff7f0e"/>
<polygon points="636.83,128.70 637.86,131.18 640.54,131.39 638.50,133.14 639.12,135.76 636.83,134.36 634.54,135.76 635.16,133.14 633.12,131.39 635.80,131.18" fill="#ff7f0e"/>
<polyline points="428.01,113.80 456.34,128.50 465.81,131.70 475.33,136.30 485.04,171.00 494.26,143.50 504.03,103.30 513.86,95.30 522.96,78.50 532.54,49.50 542.07,50.80 551.47,52.10 570.58,50.00 579.98,51.10 598.85,43.20 618.39,45.00 627.49,46.40 636.83,51.00" fill="none" stroke="#2ca02c" stroke-width="1.0" stroke-linejoin="round" stroke-linecap="butt" />
<polygon points="428.01,110.20 429.04,112.68 431.72,112.89 429.68,114.64 430.31,117.26 428.01,115.85 425.72,117.26 426.34,114.64 424.30,112.89 426.98,112.68" fill="#2ca02c"/>
<polygon points="456.34,124.90 457.38,127.38 460.05,127.59 458.01,129.34 458.64,131.96 456.34,130.56 454.05,131.96 454.68,129.34 452.64,127.59 455.31,127.38" fill="#2ca02c"/>
<polygon points="465.81,128.10 466.84,130.58 469.52,130.79 467.48,132.54 468.10,135.16 465.81,133.75 463.52,135.16 464.14,132.54 462.10,130.79 464.78,130.58" fill="#2ca02c"/>
<polygon points="475.33,132.70 476.36,135.18 479.04,135.39 477.00,137.14 477.63,139.76 475.33,138.36 473.04,139.76 473.66,137.14 471.62,135.39 474.30,135.18" fill="#2ca02c"/>
<polygon points="485.04,167.40 486.07,169.88 488.75,170.09 486.71,171.84 487.33,174.46 485.04,173.06 482.75,174.46 483.37,171.84 481.33,170.09 484.01,169.88" fill="#2ca02c"/>
<polygon points="494.26,139.90 495.29,142.38 497.97,142.59 495.93,144.34 496.55,146.96 494.26,145.56 491.97,146.96 492.59,144.34 490.55,142.59 493.23,142.38" fill="#2ca02c"/>
<polygon points="504.03,99.70 505.06,102.18 507.74,102.39 505.70,104.14 506.32,106.76 504.03,105.35 501.74,106.76 502.36,104.14 500.32,102.39 503.00,102.18" fill="#2ca02c"/>
<polygon points="513.86,91.70 514.89,94.18 517.57,94.39 515.53,96.14 516.15,98.76 513.86,97.35 511.56,98.76 512.19,96.14 510.15,94.39 512.83,94.18" fill="#2ca02c"/>
<polygon points="522.96,74.90 523.99,77.38 526.67,77.59 524.63,79.34 525.25,81.96 522.96,80.55 520.66,81.96 521.29,79.34 519.25,77.59 521.93,77.38" fill="#2ca02c"/>
<polygon points="532.54,45.90 533.57,48.38 536.25,48.59 534.21,50.34 534.83,52.96 532.54,51.55 530.25,52.96 530.87,50.34 528.83,48.59 531.51,48.38" fill="#2ca02c"/>
<polygon points="542.07,47.20 543.10,49.68 545.78,49.89 543.74,51.64 544.36,54.26 542.07,52.85 539.77,54.26 540.40,51.64 538.36,49.89 541.04,49.68" fill="#2ca02c"/>
<polygon points="551.47,48.50 552.50,50.98 555.18,51.19 553.14,52.94 553.76,55.56 551.47,54.16 549.18,55.56 549.80,52.94 547.76,51.19 550.44,50.98" fill="#2ca02c"/>
<polygon points="570.58,46.40 571.61,48.88 574.29,49.09 572.25,50.84 572.87,53.46 570.58,52.05 568.29,53.46 568.91,50.84 566.87,49.09 569.55,48.88" fill="#2ca02c"/>
<polygon points="579.98,47.50 581.01,49.98 583.69,50.19 581.65,51.94 582.28,54.56 579.98,53.16 577.69,54.56 578.31,51.94 576.27,50.19 578.95,49.98" fill="#2ca02c"/>
<polygon points="598.85,39.60 599.88,42.08 602.56,42.29 600.52,44.04 601.14,46.66 598.85,45.26 596.56,46.66 597.18,44.04 595.14,42.29 597.82,42.08" fill="#2ca02c"/>
<polygon points="618.39,41.40 619.42,43.88 622.09,44.09 620.05,45.84 620.68,48.46 618.39,47.05 616.09,48.46 616.72,45.84 614.68,44.09 617.35,43.88" fill="#2ca02c"/>
<polygon points="627.49,42.80 628.52,45.28 631.19,45.49 629.15,47.24 629.78,49.86 627.49,48.45 625.19,49.86 625.82,47.24 623.78,45.49 626.45,45.28" fill="#2ca02c"/>
<polygon points="636.83,47.40 637.86,49.88 640.54,50.09 638.50,51.84 639.12,54.46 636.83,53.05 634.54,54.46 635.16,51.84 633.12,50.09 635.80,49.88" fill="#2ca02c"/>
</g>
<line x1="409" y1="75.4" x2="428.2" y2="75.4" stroke="#000" stroke-width="1"/>
<line x1="409" y1="88.4" x2="428.2" y2="88.4" stroke="#000" stroke-width="1" stroke-dasharray="2.65 1.28"/>
<text x="435" y="78.5" font-size="9.9" text-anchor="start" fill="#000" stroke="#000" stroke-width="0.1" textLength="61" lengthAdjust="spacingAndGlyphs" >Measurement</text>
<text x="435" y="91.8" font-size="9.9" text-anchor="start" fill="#000" stroke="#000" stroke-width="0.1" textLength="47" lengthAdjust="spacingAndGlyphs" >Simulation</text>
<rect x="606.4" y="62.6" width="59.4" height="42.9" rx="2" ry="2" fill="#fff" fill-opacity="0.8" stroke="#e3e3e3" stroke-width="1"/>
<line x1="609.4" y1="70.2" x2="628" y2="70.2" stroke="#1f77b4" stroke-width="1.3" stroke-opacity="0.75"/>
<polygon points="618.70,66.20 619.73,68.68 622.41,68.89 620.37,70.64 620.99,73.26 618.70,71.86 616.41,73.26 617.03,70.64 614.99,68.89 617.67,68.68" fill="#1f77b4"/>
<text x="635.4" y="73.0" font-size="9.8" text-anchor="start" fill="#000" stroke="#000" stroke-width="0.12" textLength="25.6" lengthAdjust="spacingAndGlyphs" >Port 4</text>
<line x1="609.4" y1="83.3" x2="628" y2="83.3" stroke="#ff7f0e" stroke-width="1.3" stroke-opacity="0.75"/>
<polygon points="618.70,79.30 619.73,81.78 622.41,81.99 620.37,83.74 620.99,86.36 618.70,84.95 616.41,86.36 617.03,83.74 614.99,81.99 617.67,81.78" fill="#ff7f0e"/>
<text x="635.4" y="86.1" font-size="9.8" text-anchor="start" fill="#000" stroke="#000" stroke-width="0.12" textLength="25.6" lengthAdjust="spacingAndGlyphs" >Port 3</text>
<line x1="609.4" y1="96.4" x2="628" y2="96.4" stroke="#2ca02c" stroke-width="1.3" stroke-opacity="0.75"/>
<polygon points="618.70,92.40 619.73,94.88 622.41,95.09 620.37,96.84 620.99,99.46 618.70,98.06 616.41,99.46 617.03,96.84 614.99,95.09 617.67,94.88" fill="#2ca02c"/>
<text x="635.4" y="99.2" font-size="9.8" text-anchor="start" fill="#000" stroke="#000" stroke-width="0.12" textLength="25.6" lengthAdjust="spacingAndGlyphs" >Port 2</text>
<rect x="399.5" y="18.5" width="273.0" height="240.0" fill="none" stroke="#808080" stroke-width="0.85"/>
<text x="536" y="279.7" font-size="9.7" text-anchor="middle" fill="#000" stroke="#000" stroke-width="0.12" textLength="72" lengthAdjust="spacingAndGlyphs" >Frequency (THz)</text>
<text x="0" y="0" font-size="9.7" text-anchor="middle" fill="#000" stroke="#000" stroke-width="0.12" textLength="144.5" lengthAdjust="spacingAndGlyphs" transform="translate(373.4,138) rotate(-90)">Normalized output intensity (dB)</text>
</svg>
</body></html>
